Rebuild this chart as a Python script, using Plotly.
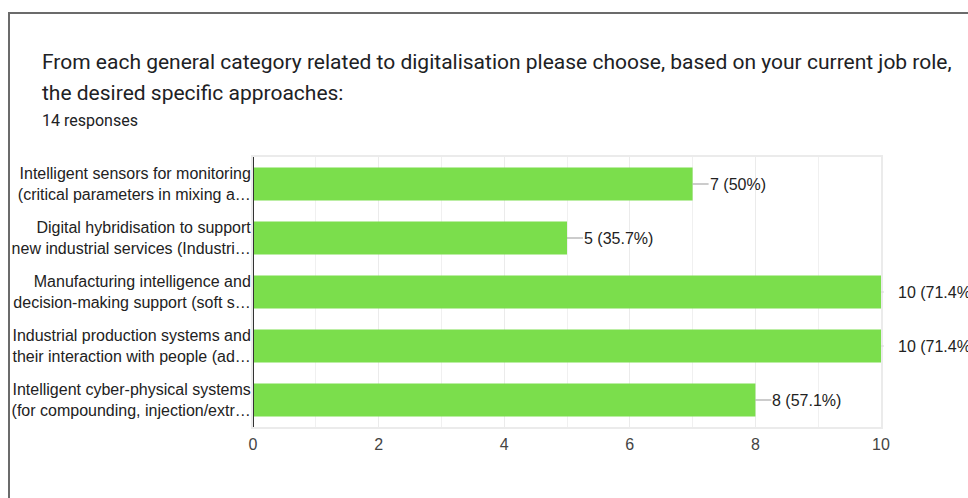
import plotly.graph_objects as go

categories = [
    "Intelligent sensors for monitoring<br>(critical parameters in mixing a…",
    "Digital hybridisation to support<br>new industrial services (Industri…",
    "Manufacturing intelligence and<br>decision-making support (soft s…",
    "Industrial production systems and<br>their interaction with people (ad…",
    "Intelligent cyber-physical systems<br>(for compounding, injection/extr…",
]
counts = [7, 5, 10, 10, 8]
labels = ["7 (50%)", "5 (35.7%)", "10 (71.4%)", "10 (71.4%)", "8 (57.1%)"]
tick_vals = [0, 2, 4, 6, 8, 10]

W, H = 968, 498
L, R, T, B = 253, 87, 157, 71

fig = go.Figure(go.Bar(
    x=counts, y=categories, orientation="h",
    marker=dict(color="#7bde4c", line=dict(width=0)),
    width=0.61, hoverinfo="skip",
))

xmax = 10
for c, lab, cnt in zip(categories, labels, counts):
    at_max = cnt >= xmax
    fig.add_annotation(
        x=cnt, y=c, xref="x", yref="y", text=lab,
        showarrow=True, ax=16, ay=0, axref="pixel", ayref="pixel",
        xanchor="left", yanchor="middle", arrowhead=0, arrowwidth=1,
        arrowcolor="#d9d9d9" if at_max else "#999999",
        startstandoff=13 if at_max else 0,
        font=dict(family="Liberation Sans, Arial", size=16, color="#222222"),
        borderpad=0,
    )

plot_w = W - L - R
plot_h = H - T - B
def px(x):
    return (x - L) / plot_w
def py(y):
    return (H - B - y) / plot_h

# card border
fig.add_shape(type="rect", xref="paper", yref="paper",
              x0=px(9), y0=py(700), x1=px(1200), y1=py(13),
              line=dict(color="#6b6b6b", width=2), layer="below")

fig.add_annotation(xref="paper", yref="paper", x=px(40), y=py(62),
    text="From each general category related to digitalisation please choose, based on your current job role,",
    showarrow=False, xanchor="left", yanchor="middle",
    font=dict(family="Roboto", size=21, color="#202124"))
fig.add_annotation(xref="paper", yref="paper", x=px(40), y=py(93),
    text="the desired specific approaches:",
    showarrow=False, xanchor="left", yanchor="middle",
    font=dict(family="Roboto", size=21, color="#202124"))
fig.add_annotation(xref="paper", yref="paper", x=px(40), y=py(120),
    text="14 responses",
    showarrow=False, xanchor="left", yanchor="middle",
    font=dict(family="Roboto", size=16, color="#202124"))

fig.update_layout(
    width=W, height=H, margin=dict(l=L, r=R, t=T, b=B, autoexpand=False),
    paper_bgcolor="white", plot_bgcolor="white", showlegend=False,
    xaxis=dict(range=[0, 10], tickvals=tick_vals, showgrid=True,
               gridcolor="#ebebeb", gridwidth=1,
               minor=dict(dtick=1, showgrid=True, gridcolor="#f0f0f0", gridwidth=1),
               zeroline=False, showline=True, linecolor="#ebebeb", linewidth=2,
               mirror=True, ticks="", ticklabelstandoff=2,
               tickfont=dict(family="Liberation Sans, Arial", size=16, color="#444444"),
               fixedrange=True),
    yaxis=dict(autorange="reversed", showgrid=False, showline=True,
               linecolor="#ebebeb", linewidth=2, mirror=True, ticks="",
               ticklabelstandoff=-3,
               tickfont=dict(family="Liberation Sans, Arial", size=16, color="#222222"),
               fixedrange=True),
)
# dark axis line at x=0
fig.add_shape(type="line", xref="x", yref="paper", x0=0, x1=0, y0=0, y1=1,
              line=dict(color="#333333", width=2))

fig.write_html(
    "out.html",
    config={"displayModeBar": False, "staticPlot": True},
    post_script="document.body.style.margin='0';document.body.style.overflow='hidden';",
)
